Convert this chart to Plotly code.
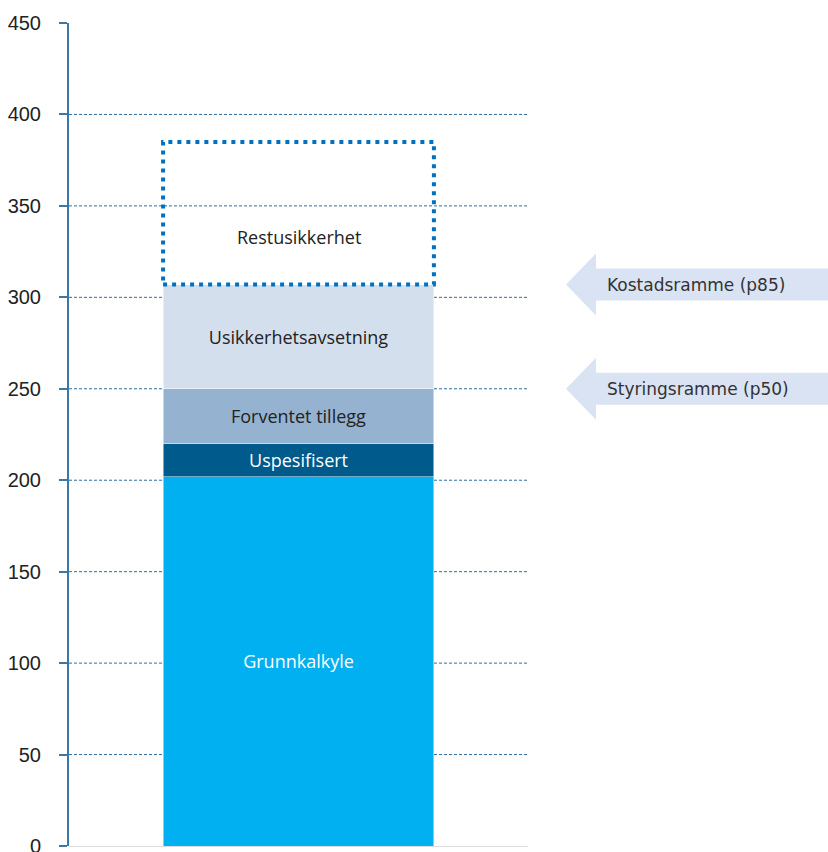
import plotly.graph_objects as go

category = ["Kostnad"]
segments = ["Grunnkalkyle", "Uspesifisert", "Forventet tillegg", "Usikkerhetsavsetning"]
segment_values = [202, 18, 30, 57]
segment_colors = ["#00B0F0", "#005A8C", "#95B3D0", "#D4DFEE"]
segment_text_colors = ["#FFFFFF", "#FFFFFF", "#222222", "#222222"]
rest_label = "Restusikkerhet"
rest_value = 78
markers = ["Kostadsramme (p85)", "Styringsramme (p50)"]
marker_values = [307, 250]
y_ticks = [0, 50, 100, 150, 200, 250, 300, 350, 400, 450]

BAR_W = 0.59
LABEL_FONT = "Open Sans"
LABEL_SIZE = 18
fig = go.Figure()
for name, val, col, tcol in zip(segments, segment_values, segment_colors, segment_text_colors):
    fig.add_trace(go.Bar(
        x=category, y=[val], name=name, width=BAR_W,
        marker=dict(color=col, line=dict(color="rgba(255,255,255,0.6)", width=0.8)),
        text=[name], textposition="inside", insidetextanchor="middle",
        textangle=0, constraintext="none",
        insidetextfont=dict(family=LABEL_FONT, size=LABEL_SIZE, color=tcol),
        hoverinfo="name+y",
    ))

base = sum(segment_values)
# Restusikkerhet bar (transparent) with dotted outline
fig.add_trace(go.Bar(
    x=category, y=[rest_value], name=rest_label, width=BAR_W,
    marker=dict(color="rgba(255,255,255,0)", line=dict(width=0)),
    hoverinfo="name+y",
))
fig.add_shape(type="rect", xref="x", yref="y",
              x0=-BAR_W / 2, x1=BAR_W / 2, y0=base, y1=base + rest_value,
              line=dict(color="#0070C0", width=4, dash="4px,5px"),
              fillcolor="rgba(0,0,0,0)", layer="above")
fig.add_annotation(x=0, y=base + rest_value * 0.33, xref="x", yref="y",
                   text=rest_label, showarrow=False,
                   font=dict(family=LABEL_FONT, size=LABEL_SIZE, color="#222222"))

# gridlines
for t in y_ticks[1:-1]:
    fig.add_shape(type="line", xref="paper", yref="y", x0=0, x1=1, y0=t, y1=t,
                  line=dict(color="#2F6E9E", width=1, dash="3px,2px"), layer="below")

# arrows pointing at the frames
PX = 459.0  # plot width in px
tip_x = 1 + 38 / PX
head_x = 1 + 68 / PX
end_x = 1 + 300 / PX
U = 450 / 823.0  # data units per px
for label, v in zip(markers, marker_values):
    hh = 31 * U
    sh = 16 * U
    path = (f"M {tip_x} {v} L {head_x} {v + hh} L {head_x} {v + sh} L {end_x} {v + sh} "
            f"L {end_x} {v - sh} L {head_x} {v - sh} L {head_x} {v - hh} Z")
    fig.add_shape(type="path", xref="paper", yref="y", path=path,
                  fillcolor="#DAE3F3", line=dict(width=0), layer="above")
    fig.add_annotation(x=1 + 77 / PX, y=v, xref="paper", yref="y", text=label,
                       showarrow=False, xanchor="left",
                       font=dict(family="DejaVu Sans", size=17, color="#333333"))

fig.update_layout(
    width=828, height=852,
    margin=dict(l=69, r=300, t=23, b=6, autoexpand=False),
    barmode="stack",
    showlegend=False,
    plot_bgcolor="white", paper_bgcolor="white",
    xaxis=dict(range=[-0.5, 0.5], showticklabels=False, showgrid=False,
               zeroline=False, showline=False, ticks="", automargin=False),
    yaxis=dict(range=[0, 450], tickvals=y_ticks, showgrid=False, automargin=False,
               zeroline=True, zerolinecolor="#DDDDDD", zerolinewidth=1,
               showline=True, linecolor="#3A78A8", linewidth=2,
               ticks="outside", ticklen=8, tickcolor="#3A78A8", tickwidth=2,
               ticklabelstandoff=14, ticklabeloverflow="allow",
               tickfont=dict(family="Liberation Sans", size=20, color="#222222")),
)
fig.write_html("out.html")
